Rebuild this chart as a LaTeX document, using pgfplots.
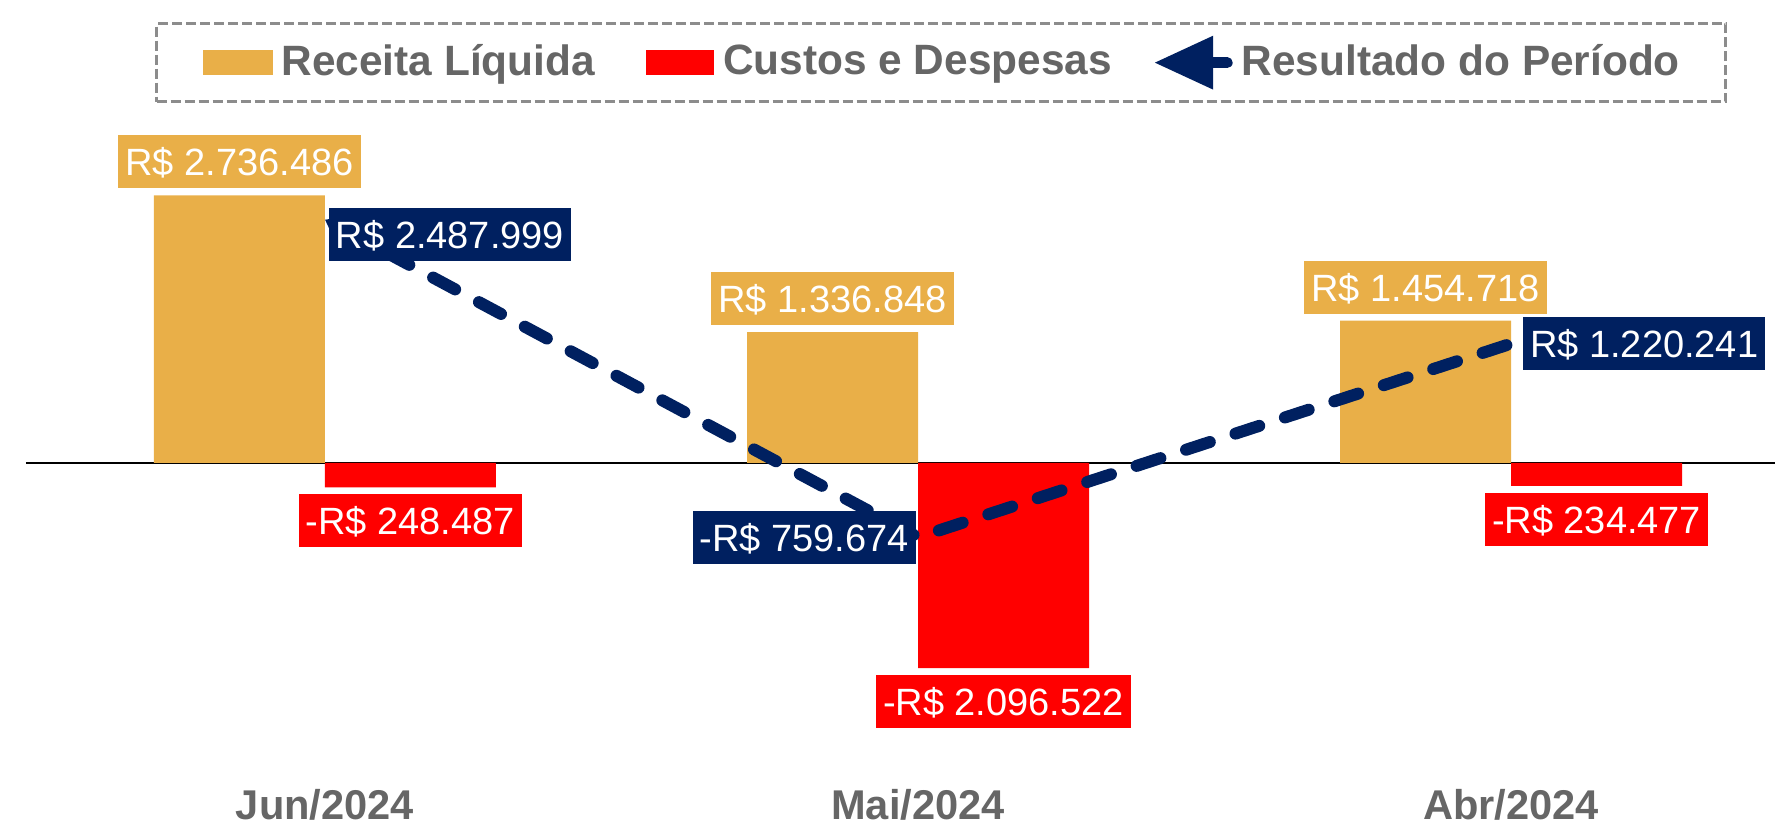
\documentclass[border=0pt]{standalone}
\usepackage{fontspec}
\setmainfont{Liberation Sans}
\usepackage{pgfplots}
\pgfplotsset{compat=1.18}
\usetikzlibrary{arrows.meta}
\definecolor{gold}{HTML}{E9AF48}
\definecolor{redc}{HTML}{FF0000}
\definecolor{navy}{HTML}{002060}
\definecolor{txtgray}{HTML}{666666}
\definecolor{bordergray}{HTML}{8C8C8C}
\tikzset{
  lbl/.style={text=white, font=\fontsize{9.5pt}{11pt}\selectfont, inner xsep=1.75pt, inner ysep=3.125pt, text height=7pt, text depth=0pt, outer sep=0pt}
}
\begin{document}
\begin{tikzpicture}
\begin{axis}[
  scale only axis, width=437.25pt, height=205.75pt,
  xmin=-0.504, xmax=2.445, ymin=-3681000, ymax=4734000,
  clip=false,
  axis line style={draw=none},
  ytick=\empty,
  xtick={0,1,2}, xticklabels={Jun/2024,Mai/2024,Abr/2024},
  major tick length=0pt,
  xticklabel style={anchor=south, inner ysep=0pt, yshift=0.4pt, font=\fontsize{10.4pt}{12pt}\selectfont\bfseries, text=txtgray},
  legend columns=3,
  legend style={at={(0.0738,0.9733)}, anchor=north west, draw=bordergray, dash pattern=on 2.5pt off 1pt, line width=0.75pt,
    inner xsep=11.5pt, inner ysep=3.9pt, font=\fontsize{10.6pt}{12pt}\selectfont\bfseries, text=txtgray,
    nodes={inner sep=0pt},
    /tikz/every odd column/.append style={column sep=2.25pt},
    /tikz/every even column/.append style={column sep=12.8pt}},
]
\draw[black, line width=0.65pt] (axis cs:-0.504,0) -- (axis cs:2.445,0);

\addplot[ybar, bar width=42.75pt, bar shift=-21.375pt, fill=gold, draw=none,
  point meta=explicit symbolic, nodes near coords,
  every node near coord/.append style={lbl, fill=gold, anchor=south, yshift=1.75pt, xshift=-21.375pt},
  legend image code/.code={\fill[gold] (0pt,-3.125pt) rectangle (17.5pt,3.125pt);}]
  coordinates {(0,2736486) [R\$ 2.736.486] (1,1336848) [R\$ 1.336.848] (2,1454718) [R\$ 1.454.718]};
\addlegendentry{Receita Líquida}

\addplot[ybar, bar width=42.75pt, bar shift=21.375pt, fill=redc, draw=none,
  point meta=explicit symbolic, nodes near coords,
  every node near coord/.append style={lbl, fill=redc, anchor=north, yshift=-1.75pt, xshift=21.375pt},
  legend image code/.code={\fill[redc] (0pt,-3.125pt) rectangle (17pt,3.125pt);}]
  coordinates {(0,-248487) [-R\$ 248.487] (1,-2096522) [-R\$ 2.096.522] (2,-234477) [-R\$ 234.477]};
\addlegendentry{Custos e Despesas}

\addplot[navy, line width=3pt, dash pattern=on 6.25pt off 6.75pt, line cap=round, mark=none,
  {Triangle[length=5pt,width=7pt]}-,
  legend image code/.code={\draw[navy, solid, -, line width=2.75pt, line cap=round] (8pt,0pt) -- (14.5pt,0pt); \fill[navy, solid] (0pt,0pt) -- (9.5pt,4.4pt) -- (9.5pt,-4.4pt) -- cycle;}]
  coordinates {(0,2487999) (1,-759674) (2,1220241)};
\addlegendentry{Resultado do Período}

\addplot[draw=none, mark=none, forget plot, point meta=explicit symbolic, nodes near coords,
  every node near coord/.append style={lbl, fill=navy, anchor=west, xshift=1pt, yshift=-3.75pt}]
  coordinates {(0,2487999) [R\$ 2.487.999]};
\addplot[draw=none, mark=none, forget plot, point meta=explicit symbolic, nodes near coords,
  every node near coord/.append style={lbl, fill=navy, anchor=east, xshift=-0.5pt}]
  coordinates {(1,-759674) [-R\$ 759.674]};
\addplot[draw=none, mark=none, forget plot, point meta=explicit symbolic, nodes near coords,
  every node near coord/.append style={lbl, fill=navy, anchor=west, xshift=3pt}]
  coordinates {(2,1220241) [R\$ 1.220.241]};
\end{axis}
\pgfresetboundingbox
\path[use as bounding box] ([xshift=-6.5pt]current axis.south west) rectangle (current axis.north east);
\end{tikzpicture}
\end{document}
